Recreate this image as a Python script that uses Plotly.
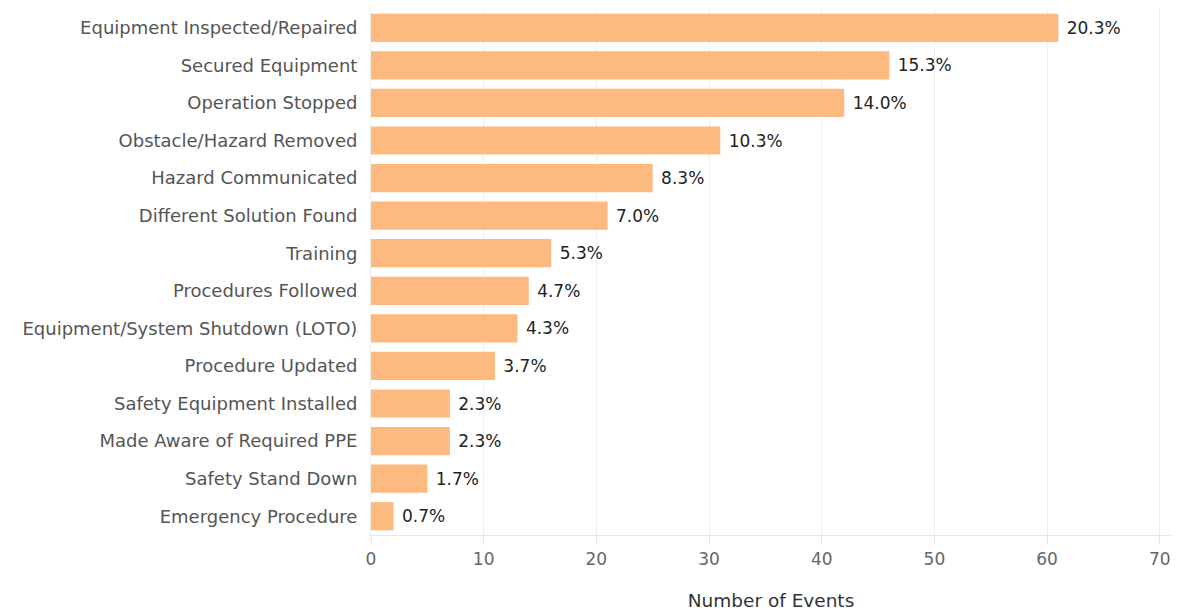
import plotly.graph_objects as go

# Corrective actions taken, ordered from most to least frequent
categories = [
    "Equipment Inspected/Repaired",
    "Secured Equipment",
    "Operation Stopped",
    "Obstacle/Hazard Removed",
    "Hazard Communicated",
    "Different Solution Found",
    "Training",
    "Procedures Followed",
    "Equipment/System Shutdown (LOTO)",
    "Procedure Updated",
    "Safety Equipment Installed",
    "Made Aware of Required PPE",
    "Safety Stand Down",
    "Emergency Procedure",
]
events = [61, 46, 42, 31, 25, 21, 16, 14, 13, 11, 7, 7, 5, 2]
share_labels = ["20.3%", "15.3%", "14.0%", "10.3%", "8.3%", "7.0%", "5.3%",
                "4.7%", "4.3%", "3.7%", "2.3%", "2.3%", "1.7%", "0.7%"]
x_ticks = [0, 10, 20, 30, 40, 50, 60, 70]

FONT = "DejaVu Sans"

fig = go.Figure(
    go.Bar(
        x=events,
        y=categories,
        orientation="h",
        marker=dict(color="#FCB980", line=dict(width=0)),
        text=share_labels,
        texttemplate=" %{text}",
        textposition="outside",
        textfont=dict(family=FONT, size=17, color="#222222"),
        cliponaxis=False,
    )
)

fig.update_layout(
    width=1177,
    height=611,
    margin=dict(l=371, r=6, t=9, b=76),
    paper_bgcolor="white",
    plot_bgcolor="white",
    bargap=0.25,
    showlegend=False,
    font=dict(family=FONT),
)

fig.update_xaxes(
    range=[0, 71],
    tickvals=x_ticks,
    tickfont=dict(family=FONT, size=17, color="#666666"),
    showgrid=True,
    gridcolor="#EEEEEE",
    gridwidth=1,
    zeroline=False,
    showline=True,
    linecolor="#E6E6E6",
    ticks="outside",
    ticklen=9,
    tickcolor="#E6E6E6",
    automargin=False,
    title=dict(text="Number of Events", font=dict(family=FONT, size=18.5, color="#333333"), standoff=25),
)

fig.update_yaxes(
    autorange="reversed",
    tickfont=dict(family=FONT, size=18, color="#555555"),
    showgrid=False,
    showline=True,
    linecolor="#EEEEEE",
    ticks="",
    ticklabelstandoff=9,
    automargin=False,
)

fig.write_html("out.html")
